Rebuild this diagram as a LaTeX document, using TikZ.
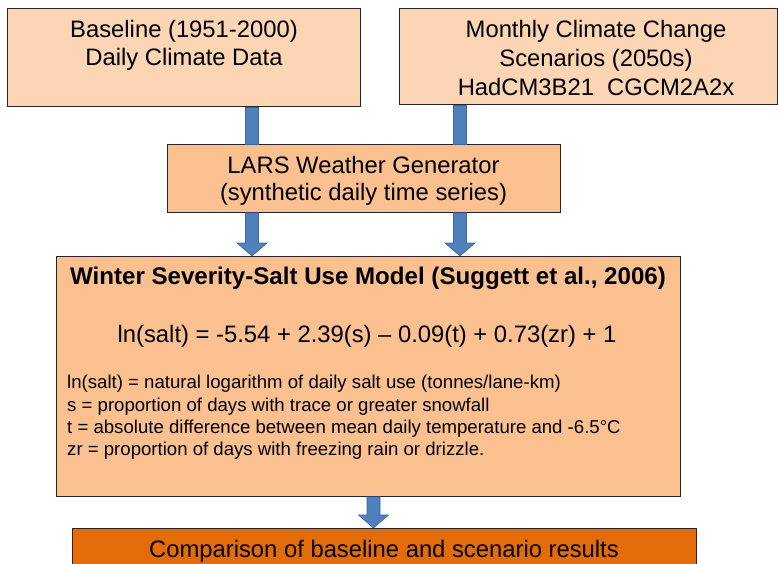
\documentclass[tikz,border=0pt]{standalone}
\usepackage{fontspec}
\setmainfont{Liberation Sans}
\usetikzlibrary{calc}

\definecolor{peachlight}{HTML}{FCD5B5}
\definecolor{peach}{HTML}{FAC08F}
\definecolor{deeporange}{HTML}{E36C09}
\definecolor{arrowblue}{HTML}{4F81BD}
\definecolor{arrowedge}{HTML}{3A6595}
\definecolor{boxedge}{HTML}{262626}

\tikzset{
  box/.style={rectangle, draw=boxedge, line width=0.9pt, inner sep=0pt, anchor=north west},
  big/.style={anchor=base, inner sep=0pt, font=\fontsize{23.8}{28}\selectfont},
  bigbold/.style={big, font=\fontsize{24.1}{28}\selectfont\bfseries},
  small/.style={anchor=base west, inner sep=0pt, font=\fontsize{18.6}{22}\selectfont},
  flow/.style={fill=arrowblue, draw=arrowedge, line width=0.6pt},
}

% plain block shaft at horizontal position #1 from the bottom of #2 to the top of #3
\newcommand\flowshaft[3]{%
  \path (#1,0 |- #2.south) coordinate (fs) (#1,0 |- #3.north) coordinate (ft);
  \draw[flow] ($(fs)+(-6.5,0)$) -- ($(fs)+(6.5,0)$) -- ($(ft)+(6.5,0)$)
    -- ($(ft)+(-6.5,0)$) -- cycle;
}
% block arrow with a head, same arguments
\newcommand\flowhead[3]{%
  \path (#1,0 |- #2.south) coordinate (fs) (#1,0 |- #3.north) coordinate (ft);
  \draw[flow] ($(fs)+(-6.5,0)$) -- ($(fs)+(6.5,0)$) -- ($(ft)+(6.5,-13)$)
    -- ($(ft)+(15,-13)$) -- (ft) -- ($(ft)+(-15,-13)$) -- ($(ft)+(-6.5,-13)$) -- cycle;
}

\begin{document}
\begin{tikzpicture}[x=1pt, y=-1pt]
\useasboundingbox (0,0) rectangle (778,563);
\clip (0,0) rectangle (778,563);

% boxes
\node[box, fill=peachlight, minimum width=353pt, minimum height=98pt] (base) at (7,8) {};
\node[box, fill=peachlight, minimum width=378pt, minimum height=96pt] (scen) at (399,8) {};
\node[box, fill=peach, minimum width=393pt, minimum height=68pt] (lars) at (167,144) {};
\node[box, fill=peach, minimum width=624pt, minimum height=240pt] (model) at (56,256) {};
\node[box, fill=deeporange, minimum width=624pt, minimum height=70pt] (comp) at (72,528) {};

% connectors
\flowshaft{252}{base}{lars}
\flowshaft{460}{scen}{lars}
\flowhead{252}{lars}{model}
\flowhead{460}{lars}{model}
\flowhead{373.5}{model}{comp}

% texts
\node[big] (b1) at (184,37) {Baseline (1951-2000)};
\node[big] (b2) at (184,65) {Daily Climate Data};

\node[big] (s1) at (596,37) {Monthly Climate Change};
\node[big] (s2) at (596,66) {Scenarios (2050s)};
\node[big] (s3) at (596,95) {HadCM3B21~ CGCM2A2x};

\node[big] (l1) at (363.5,173) {LARS Weather Generator};
\node[big] (l2) at (363.5,200) {(synthetic daily time series)};

\node[bigbold] (m1) at (368,284) {Winter Severity-Salt Use Model (Suggett et al., 2006)};
\node[big] (m2) at (367,342) {ln(salt) = -5.54 + 2.39(s) – 0.09(t) + 0.73(zr) + 1};

\node[small] (d1) at (67,388) {ln(salt) = natural logarithm of daily salt use (tonnes/lane-km)};
\node[small] (d2) at (67,411) {s = proportion of days with trace or greater snowfall};
\node[small] (d3) at (67,433) {t = absolute difference between mean daily temperature and -6.5°C};
\node[small] (d4) at (67,455) {zr = proportion of days with freezing rain or drizzle.};

\node[big] (c1) at (384,557) {Comparison of baseline and scenario results};
\end{tikzpicture}
\end{document}
